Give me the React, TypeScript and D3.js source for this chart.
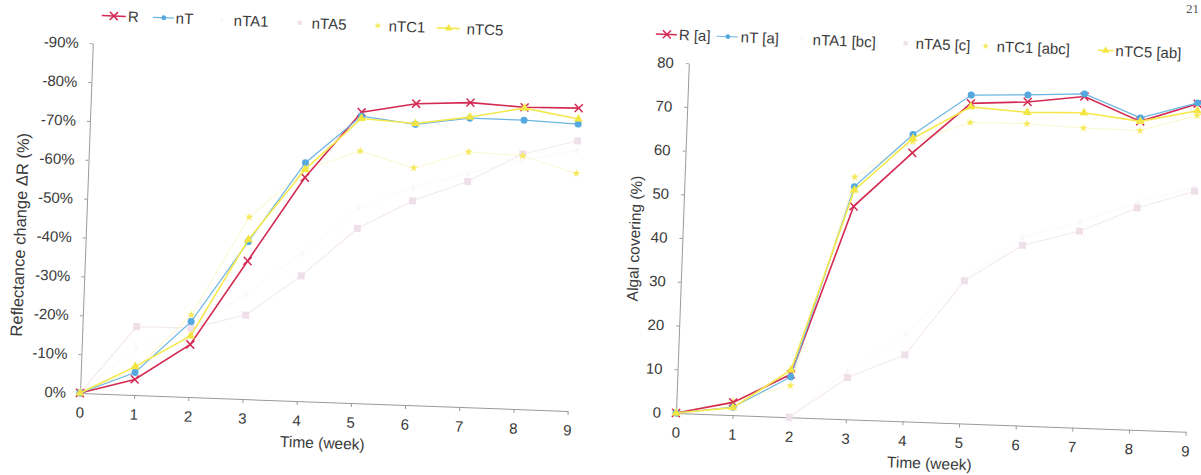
import React, { useEffect, useRef } from 'react';
import * as d3 from 'd3';

const weeks = [0, 1, 2, 3, 4, 5, 6, 7, 8, 9];

// left panel: reflectance change ΔR (%)
const reflR = [0, -4, -13.5, -35.5, -57.5, -74.8, -77.5, -78.3, -77.6, -77.9];
const reflNT = [0, -5.8, -19.4, -40.5, -61.3, -73.8, -72.2, -74.3, -74.3, -73.8];
const reflNTA1 = [0, -12, -18, -27, -38, -50, -56, -60, -64, -67];
const reflNTA5 = [0, -17.6, -17.7, -21.6, -32.2, -44.9, -52.5, -58, -65.6, -69.5];
const reflNTC1 = [0, -6.5, -21.1, -46.8, -59.5, -64.8, -61, -65.6, -65.1, -61.1];
const reflNTC5 = [0, -7.3, -15.7, -41, -59.6, -73.2, -72.4, -74.6, -77.4, -75.1];

// right panel: algal covering (%)
const coverR = [0, 2.9, 9.8, 48.7, 61.4, 73.2, 74, 75.7, 70.5, 75];
const coverNT = [0, 1.8, 9.2, 53.2, 65.6, 75.1, 75.6, 76.3, 71.3, 75.2];
const coverNTA1 = [null, null, 0, 11, 20, 33, 43, 47, 52, 56];
const coverNTA5 = [null, null, 0, 9.5, 15.2, 32.6, 41.2, 44.9, 50.7, 55];
const coverNTC1 = [0, 3.1, 7.2, 55.4, 64, 68.8, 69, 68.5, 68.4, 72.3];
const coverNTC5 = [0, 1.7, 10.8, 52.4, 64.7, 72.4, 71.6, 72, 70.5, 73.4];

const leftLabels = ['R', 'nT', 'nTA1', 'nTA5', 'nTC1', 'nTC5'];
const rightLabels = ['R [a]', 'nT [a]', 'nTA1 [bc]', 'nTA5 [c]', 'nTC1 [abc]', 'nTC5 [ab]'];

const FONT = '"Liberation Sans", Arial, sans-serif';
const TILT = 2.1; // the scan is a bit rotated

const styles = [
  { color: '#d42a52', line: '#d42a52', width: 1.6, marker: 'x', size: 1 },
  { color: '#55a9de', line: '#6bb5e3', width: 1.2, marker: 'circle', size: 1 },
  { color: '#f9f9f9', line: '#fafafa', width: 1, marker: 'diamond', size: 20 },
  { color: '#eedfe8', line: '#f4eaf0', width: 1.2, marker: 'square', size: 1 },
  { color: '#f5ea5c', line: '#fbf7d2', width: 1, marker: 'star', size: 22 },
  { color: '#f3e544', line: '#f4e84c', width: 1.6, marker: 'triangle', size: 34 },
];
const drawOrder = [2, 3, 4, 0, 1, 5];

function addMarker(g, kind, color, x, y, size) {
  if (kind === 'x') {
    g.append('path')
      .attr('d', `M${x - 4},${y - 4}L${x + 4},${y + 4}M${x - 4},${y + 4}L${x + 4},${y - 4}`)
      .attr('stroke', color).attr('stroke-width', 1.5).attr('fill', 'none');
  } else if (kind === 'circle') {
    g.append('circle').attr('cx', x).attr('cy', y).attr('r', 3.5 * size).attr('fill', color);
  } else if (kind === 'square') {
    const h = 3.5 * size;
    g.append('rect').attr('x', x - h).attr('y', y - h).attr('width', 2 * h).attr('height', 2 * h).attr('fill', color);
  } else {
    const type = kind === 'star' ? d3.symbolStar : kind === 'triangle' ? d3.symbolTriangle : d3.symbolDiamond;
    g.append('path')
      .attr('d', d3.symbol().type(type).size(size)())
      .attr('transform', `translate(${x},${y})`)
      .attr('fill', color);
  }
}

function drawPanel(svg, p) {
  const g = svg.append('g')
    .attr('transform', `translate(${p.origin[0]},${p.origin[1]}) rotate(${TILT})`);

  const x = d3.scaleLinear().domain([0, 9]).range([0, p.xLen]);
  const y = d3.scaleLinear().domain(p.yDomain).range([0, -p.yLen]);

  const yAxis = g.append('g')
    .call(d3.axisLeft(y).tickValues(p.yTicks).tickFormat(p.yFormat).tickSize(3).tickSizeOuter(0).tickPadding(p.yPad));
  const xAxis = g.append('g')
    .call(d3.axisBottom(x).tickValues(weeks).tickSize(4).tickSizeOuter(0).tickPadding(10));
  [yAxis, xAxis].forEach(a => {
    a.attr('font-family', FONT).attr('font-size', 15);
    a.selectAll('path,line').attr('stroke', '#9a9a9a');
    a.selectAll('text').attr('fill', '#3a3a3a');
  });

  g.append('text')
    .attr('transform', `translate(${p.yTitlePos[0]},${p.yTitlePos[1]}) rotate(-90)`)
    .attr('text-anchor', 'middle').attr('dy', '0.35em')
    .attr('font-family', FONT).attr('font-size', p.titleSize).attr('fill', '#3a3a3a')
    .text(p.yTitle);
  g.append('text')
    .attr('x', x(4.5)).attr('y', 41).attr('dy', '0.35em')
    .attr('text-anchor', 'middle')
    .attr('font-family', FONT).attr('font-size', 15.5).attr('fill', '#3a3a3a')
    .text('Time (week)');

  drawOrder.forEach(i => {
    const s = styles[i];
    const pts = weeks.map((w, j) => ({ w, v: p.series[i][j] })).filter(d => d.v != null);
    g.append('path')
      .datum(pts)
      .attr('fill', 'none')
      .attr('stroke', s.line)
      .attr('stroke-width', s.width)
      .attr('d', d3.line().x(d => x(d.w)).y(d => y(d.v)));
    pts.forEach(d => addMarker(g, s.marker, s.color, x(d.w), y(d.v), s.size));
  });

  // legend
  const ly = -378;
  p.legend.forEach((item, i) => {
    const s = styles[i];
    if (item.line) {
      g.append('line')
        .attr('x1', item.line[0]).attr('x2', item.line[1]).attr('y1', ly).attr('y2', ly)
        .attr('stroke', s.line).attr('stroke-width', s.width);
    }
    addMarker(g, s.marker, s.color, item.mark, ly, s.marker === 'square' ? 0.6 : s.size * 0.7);
    g.append('text')
      .attr('x', item.text).attr('y', ly).attr('dy', '0.35em')
      .attr('font-family', FONT).attr('font-size', 15).attr('fill', '#3a3a3a')
      .text(p.labels[i]);
  });
}

const leftPanel = {
  origin: [80, 393], xLen: 488, yLen: 350,
  yDomain: [0, -90], yTicks: d3.range(0, -91, -10), yFormat: d => `${d}%`, yPad: 11,
  yTitle: 'Reflectance change \u0394R (%)', yTitlePos: [-66, -156], titleSize: 16.5,
  series: [reflR, reflNT, reflNTA1, reflNTA5, reflNTC1, reflNTC5],
  labels: leftLabels,
  legend: [
    { line: [8, 32], mark: 20, text: 34 },
    { line: [59, 80], mark: 70, text: 82 },
    { line: null, mark: 128, text: 140 },
    { line: null, mark: 206, text: 218 },
    { line: null, mark: 284, text: 295 },
    { line: [343, 366], mark: 355, text: 373 },
  ],
};

const rightPanel = {
  origin: [676, 413], xLen: 510, yLen: 350,
  yDomain: [0, 80], yTicks: d3.range(0, 81, 10), yFormat: d => `${d}`, yPad: 12,
  yTitle: 'Algal covering (%)', yTitlePos: [-48, -173], titleSize: 15.5,
  series: [coverR, coverNT, coverNTA1, coverNTA5, coverNTC1, coverNTC5],
  labels: rightLabels,
  legend: [
    { line: [-34, -13], mark: -23, text: -11 },
    { line: [27, 48], mark: 38, text: 51 },
    { line: null, mark: 112, text: 123 },
    { line: null, mark: 216, text: 226 },
    { line: null, mark: 296, text: 307 },
    { line: [408, 424], mark: 416, text: 426 },
  ],
};

export default function App() {
  const ref = useRef<SVGSVGElement>(null);

  useEffect(() => {
    const svg = d3.select(ref.current);
    svg.selectAll('*').remove();
    drawPanel(svg, leftPanel);
    drawPanel(svg, rightPanel);
    svg.append('text')
      .attr('x', 1186).attr('y', 13)
      .attr('font-family', '"Liberation Serif", serif').attr('font-size', 13).attr('fill', '#555')
      .text('21');
  }, []);

  return (
    <svg ref={ref} width={1201} height={475}
      style={{ position: 'absolute', left: 0, top: 0, background: '#fff' }} />
  );
}
